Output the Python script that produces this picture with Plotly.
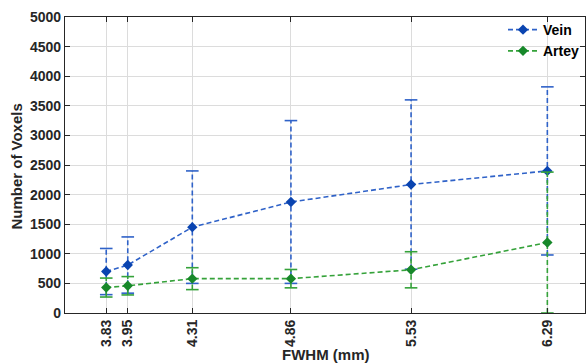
import plotly.graph_objects as go

# FWHM values (mm) used as x positions and tick labels
fwhm = [3.83, 3.95, 4.31, 4.86, 5.53, 6.29]
tick_labels = ["3.83", "3.95", "4.31", "4.86", "5.53", "6.29"]

# Vein: mean voxel count and error half-width
vein_mean = [700, 810, 1450, 1875, 2170, 2400]
vein_err = [390, 475, 950, 1375, 1430, 1420]

# Artey: mean voxel count and error half-width
artey_mean = [430, 460, 580, 580, 730, 1190]
artey_err = [160, 155, 185, 155, 305, 1190]

series = [
    ("Vein", vein_mean, vein_err, "#2f62c8", "#0a44b0"),
    ("Artey", artey_mean, artey_err, "#35a23a", "#17882a"),
]

FONT = "Liberation Sans, Arial, sans-serif"

fig = go.Figure()

for name, mean, err, line_col, mark_col in series:
    lo = [m - e for m, e in zip(mean, err)]
    hi = [m + e for m, e in zip(mean, err)]

    # dashed vertical error segments
    ex, ey = [], []
    for x, a, b in zip(fwhm, lo, hi):
        ex += [x, x, None]
        ey += [a, b, None]
    fig.add_trace(go.Scatter(
        x=ex, y=ey, mode="lines", showlegend=False, hoverinfo="skip",
        line=dict(color=line_col, width=1.6, dash="5px,3px"),
    ))

    # error caps
    fig.add_trace(go.Scatter(
        x=fwhm + fwhm, y=lo + hi, mode="markers", showlegend=False,
        hoverinfo="skip",
        marker=dict(symbol="line-ew-open", size=9, color=line_col,
                    line=dict(color=line_col, width=1.6)),
    ))

    # mean curve
    fig.add_trace(go.Scatter(
        x=fwhm, y=mean, mode="lines+markers", name=name,
        line=dict(color=line_col, width=1.6, dash="5px,3px"),
        marker=dict(symbol="diamond", size=8, color=mark_col),
    ))

axis_common = dict(
    showline=True, linecolor="#262626", linewidth=1.3, mirror="ticks",
    ticks="inside", ticklen=5, tickcolor="#262626", tickwidth=1.2,
    showgrid=True, gridcolor="#dcdcdc", gridwidth=1, zeroline=False,
    tickfont=dict(family=FONT, size=14, color="#262626", weight="bold"),
)

fig.update_layout(
    width=586, height=363,
    margin=dict(l=65, r=1, t=17, b=50),
    paper_bgcolor="white", plot_bgcolor="white",
    font=dict(family=FONT, color="#262626"),
    xaxis=dict(range=[3.6, 6.5], tickmode="array", tickvals=fwhm,
               ticktext=tick_labels, tickangle=-90, **axis_common),
    yaxis=dict(range=[0, 5000], dtick=500, **axis_common),
    legend=dict(x=1.0, y=1.01, xanchor="right", yanchor="top",
                bgcolor="rgba(255,255,255,0)", borderwidth=0,
                font=dict(family=FONT, size=14, color="black", weight="bold"),
                itemwidth=30, tracegroupgap=0),
    showlegend=True,
    annotations=[
        dict(text="<b>FWHM (mm)</b>", xref="paper", yref="paper",
             x=0.5, y=-0.105, xanchor="center", yanchor="top",
             showarrow=False, font=dict(family=FONT, size=15, color="#262626")),
        dict(text="<b>Number of Voxels</b>", xref="paper", yref="paper",
             x=-0.094, y=0.495, xanchor="center", yanchor="middle",
             textangle=-90, showarrow=False,
             font=dict(family=FONT, size=15, color="#262626")),
    ],
)

fig.write_html("out.html")
